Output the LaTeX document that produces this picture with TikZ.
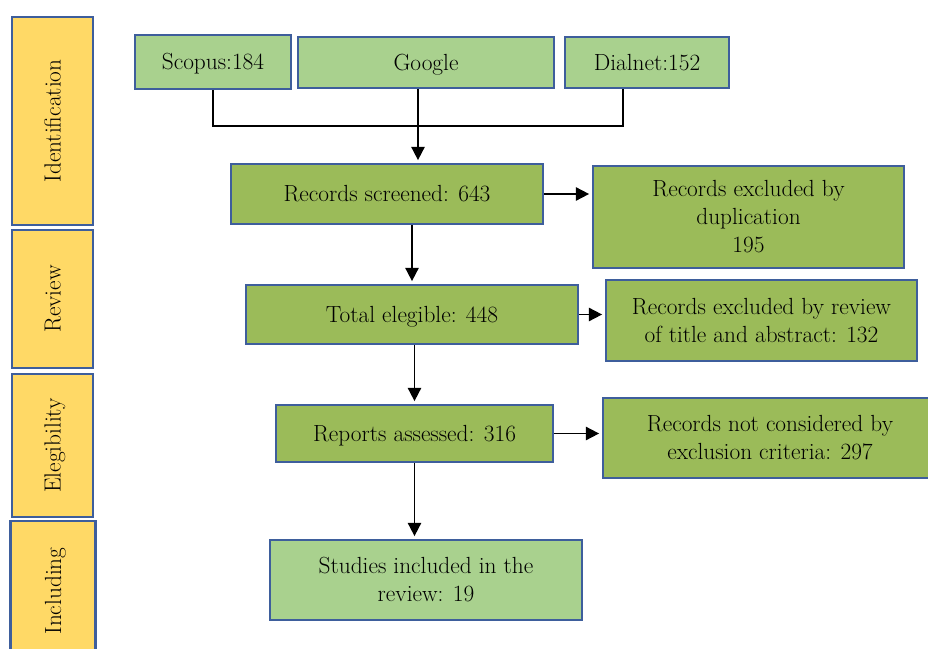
\documentclass[tikz,border=0pt]{standalone}
\usetikzlibrary{arrows.meta,calc}

\definecolor{stageyellow}{RGB}{255,217,102}
\definecolor{lightgreen}{RGB}{169,209,142}
\definecolor{midgreen}{RGB}{155,187,89}
\definecolor{boxblue}{RGB}{62,94,156}

\begin{document}
\begin{tikzpicture}[x=0.75pt, y=-0.75pt,
        every node/.style={font=\fontsize{17.5}{21}\selectfont, align=center, inner sep=2pt},
        oneline/.style={text height=14pt, text depth=2pt},
        box/.style={draw=boxblue, line width=1.8pt, rectangle},
        stage/.style={box, oneline, fill=stageyellow, rotate=90, minimum height=60.75pt},
        source/.style={box, fill=lightgreen},
        stepnode/.style={box, fill=midgreen},
        link/.style={line width=1.3pt},
        arr/.style={link, -{Triangle[length=10pt,width=10pt]}, shorten >=2pt}]
        \useasboundingbox (0, 0) rectangle (928, 649);

        % stages on the left
        \node[stage, minimum width=156pt] (ident) at (52.5, 121) {Identification};
        \node[stage, minimum width=103.5pt] (review) at (52.5, 299) {Review};
        \node[stage, minimum width=107.25pt] (elig) at (52.5, 445.5) {Elegibility};
        \node[stage, minimum width=105pt, minimum height=64pt] (incl) at (53, 591) {Including};

        % sources
        \node[source, oneline, minimum width=117pt, minimum height=40.5pt] (scopus) at (213, 62) {Scopus:184};
        \node[source, oneline, minimum width=192pt, minimum height=38.25pt] (google) at (426, 62.5) {Google};
        \node[source, oneline, minimum width=123pt, minimum height=38.25pt] (dialnet) at (647, 62.5) {Dialnet:152};
        \coordinate (join) at (418, 126);

        % main flow
        \node[stepnode, oneline, minimum width=234pt, minimum height=45pt] (screened) at (387, 194) {Records screened: 643};
        \node[stepnode, oneline, minimum width=249pt, minimum height=44.25pt] (total) at (412, 314.5) {Total elegible: 448};
        \node[stepnode, oneline, minimum width=207.75pt, minimum height=42.75pt] (reports) at (414.5, 433.5) {Reports assessed: 316};
        \node[source, minimum width=234pt, minimum height=60pt] (studies) at (426, 580) {Studies included in the\\review: 19};

        % exclusions
        \node[stepnode, minimum width=233.25pt, minimum height=76.5pt] (dup) at (748.5, 217) {Records excluded by\\duplication\\195};
        \node[stepnode, minimum width=233.25pt, minimum height=60.75pt] (revex) at (761.5, 320.5) {Records excluded by review\\of title and abstract: 132};
        \node[stepnode, minimum width=250.5pt, minimum height=60pt] (notcons) at (770, 438) {Records not considered by\\exclusion criteria: 297};

        \draw[link] (scopus.south) |- (join) -| ($(dialnet.south)+(-24, 0)$);
        \draw[arr] (google.south -| join) -- (join |- screened.north);
        \draw[arr] (screened.south -| total.north) -- (total.north);
        \draw[arr] (total.south -| reports.north) -- (reports.north);
        \draw[arr] (reports.south) -- (reports.south |- studies.north);

        \draw[arr] (screened.east) -- (screened.east -| dup.west);
        \draw[arr] (total.east) -- (total.east -| revex.west);
        \draw[arr] (reports.east) -- (reports.east -| notcons.west);
\end{tikzpicture}
\end{document}
